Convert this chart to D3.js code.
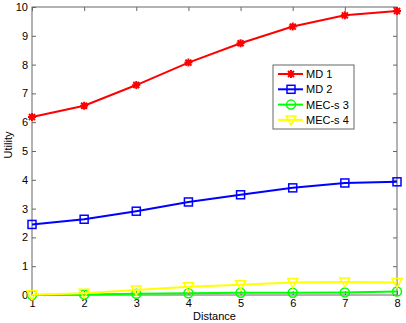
<!DOCTYPE html>
<html lang="en">
<head>
<meta charset="UTF-8">
<title>Utility vs distance</title>
<script src="https://cdn.jsdelivr.net/npm/d3@7"></script>
<style>
  body { margin: 0; background: #fff; }
  text { font-family: "Liberation Sans", Arial, sans-serif; font-size: 11px; fill: #000; }
</style>
</head>
<body>
<script type="text/javascript">
var distance = [1, 2, 3, 4, 5, 6, 7, 8];
var md1 = [6.18, 6.57, 7.29, 8.07, 8.74, 9.32, 9.71, 9.86];
var md2 = [2.45, 2.63, 2.91, 3.23, 3.48, 3.72, 3.89, 3.93];
var mecs3 = [0.0, 0.02, 0.04, 0.06, 0.08, 0.08, 0.09, 0.12];
var mecs4 = [0.01, 0.06, 0.17, 0.29, 0.36, 0.43, 0.45, 0.43];
var seriesNames = ["MD 1", "MD 2", "MEC-s 3", "MEC-s 4"];
var yTicks = [0, 1, 2, 3, 4, 5, 6, 7, 8, 9, 10];

var w = 406, h = 323,
    plotLeft = 32, plotRight = 397, plotTop = 7, plotBottom = 295;

var series = [
    { name: seriesNames[0], values: md1, color: "#ff0000", marker: "star" },
    { name: seriesNames[1], values: md2, color: "#0000ff", marker: "square" },
    { name: seriesNames[2], values: mecs3, color: "#00ff00", marker: "circle" },
    { name: seriesNames[3], values: mecs4, color: "#ffff00", marker: "triangle" }
];

var x = d3.scaleLinear().domain([1, 8]).range([plotLeft, plotRight]);
var y = d3.scaleLinear().domain([0, 10]).range([plotBottom, plotTop]);

var svg = d3.select("body").append("svg")
    .attr("width", w)
    .attr("height", h);

// axes box with inward ticks, MATLAB style
var axisColor = "#666";
svg.append("g").attr("transform", "translate(0," + plotBottom + ")")
    .call(d3.axisBottom(x).tickValues(distance).tickFormat(d3.format("d")).tickSizeInner(-4).tickSizeOuter(0).tickPadding(4))
    .call(function(g) { g.select(".domain").remove(); });
svg.append("g").attr("transform", "translate(0," + plotTop + ")")
    .call(d3.axisTop(x).tickValues(distance).tickSizeInner(-4).tickSizeOuter(0).tickFormat(""))
    .call(function(g) { g.select(".domain").remove(); });
svg.append("g").attr("transform", "translate(" + plotLeft + ",0)")
    .call(d3.axisLeft(y).tickValues(yTicks).tickFormat(d3.format("d")).tickSizeInner(-4).tickSizeOuter(0).tickPadding(4))
    .call(function(g) { g.select(".domain").remove(); });
svg.append("g").attr("transform", "translate(" + plotRight + ",0)")
    .call(d3.axisRight(y).tickValues(yTicks).tickSizeInner(-4).tickSizeOuter(0).tickFormat(""))
    .call(function(g) { g.select(".domain").remove(); });

svg.selectAll(".tick line").attr("stroke", axisColor);
svg.selectAll(".tick text").attr("font-family", "Liberation Sans, Arial, sans-serif").attr("font-size", "11px").attr("fill", "#000");

svg.append("rect")
    .attr("x", plotLeft).attr("y", plotTop)
    .attr("width", plotRight - plotLeft).attr("height", plotBottom - plotTop)
    .attr("fill", "none").attr("stroke", axisColor).attr("stroke-width", 1);

svg.append("text")
    .attr("x", (plotLeft + plotRight) / 2).attr("y", 320)
    .attr("text-anchor", "middle")
    .text("Distance");
svg.append("text")
    .attr("transform", "translate(12," + 145 + ") rotate(-90)")
    .attr("text-anchor", "middle")
    .text("Utility");

function drawMarker(g, type, color) {
    if (type === "star") {
        g.append("path").attr("d", "M-4,0H4M0,-4V4M-3,-3L3,3M-3,3L3,-3")
            .attr("stroke", color).attr("stroke-width", 2).attr("fill", "none");
    } else if (type === "square") {
        g.append("rect").attr("x", -4).attr("y", -4).attr("width", 8).attr("height", 8)
            .attr("stroke", color).attr("stroke-width", 1.5).attr("fill", "none");
    } else if (type === "circle") {
        g.append("circle").attr("r", 4.5)
            .attr("stroke", color).attr("stroke-width", 1.5).attr("fill", "none");
    } else {
        g.append("path").attr("d", "M-5,-4H5L0,5Z")
            .attr("stroke", color).attr("stroke-width", 1.5).attr("fill", "none");
    }
}

var line = d3.line()
    .x(function(d, i) { return x(distance[i]); })
    .y(function(d) { return y(d); });

// plot order as in the legend, later series on top
series.forEach(function(s) {
    svg.append("path")
        .attr("d", line(s.values))
        .attr("fill", "none")
        .attr("stroke", s.color)
        .attr("stroke-width", 2);
    s.values.forEach(function(v, i) {
        var g = svg.append("g").attr("transform", "translate(" + x(distance[i]) + "," + y(v) + ")");
        drawMarker(g, s.marker, s.color);
    });
});

// legend
var lg = svg.append("g");
lg.append("rect")
    .attr("x", 273).attr("y", 65).attr("width", 81).attr("height", 64)
    .attr("fill", "#fff").attr("stroke", axisColor);
series.forEach(function(s, i) {
    var ly = 74 + i * 15.3;
    lg.append("line").attr("x1", 278).attr("x2", 303).attr("y1", ly).attr("y2", ly)
        .attr("stroke", s.color).attr("stroke-width", 2);
    drawMarker(lg.append("g").attr("transform", "translate(291," + ly + ")"), s.marker, s.color);
    lg.append("text").attr("x", 306).attr("y", ly + 4).text(s.name);
});
</script>
</body>
</html>
